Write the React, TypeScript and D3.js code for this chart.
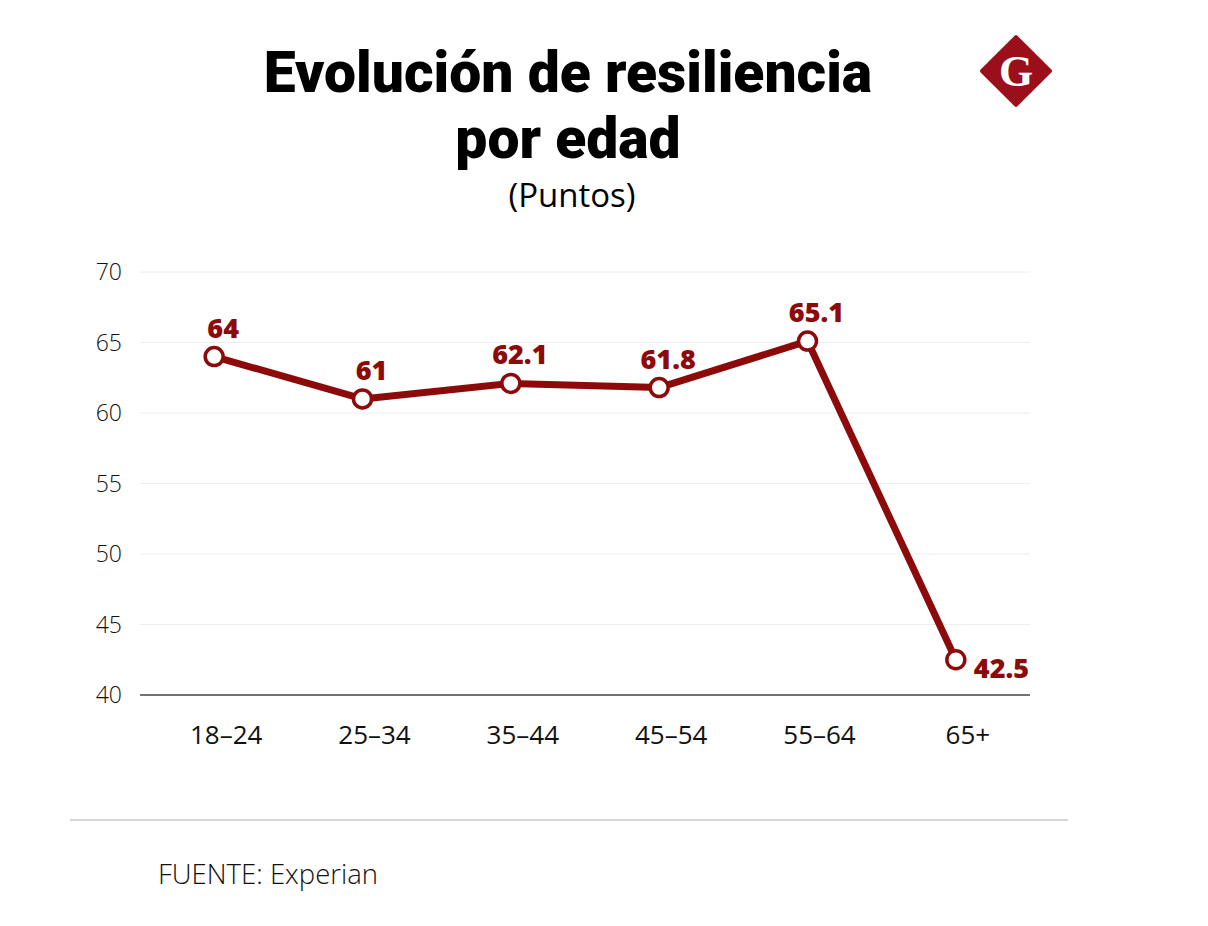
import * as d3 from "d3";

const categories = ["18-24", "25-34", "35-44", "45-54", "55-64", "65+"];
const values = [64, 61, 62.1, 61.8, 65.1, 42.5];
const yTicks = [40, 45, 50, 55, 60, 65, 70];

const RED = "#8c0a0a";

export default function App() {
  const width = 1208;
  const height = 926;
  const left = 140;
  const right = 1030;
  const top = 272;
  const bottom = 695;

  const x = d3.scalePoint<string>().domain(categories).range([left, right]).padding(0.5);
  const y = d3.scaleLinear().domain([40, 70]).range([bottom, top]);

  const line = d3
    .line<number>()
    .x((_, i) => x(categories[i]) as number)
    .y((d) => y(d));

  return (
    <svg width={width} height={height} style={{ position: "absolute", left: 0, top: 0, background: "#fff" }}>
      {/* title */}
      <g fontFamily="Roboto, sans-serif" fontWeight={900} fill="#000" textAnchor="middle">
        <text x={568} y={92} fontSize={57}>Evolución de resiliencia</text>
        <text x={568} y={158} fontSize={57}>por edad</text>
      </g>
      <text x={572} y={207} fontSize={33} fontFamily="'Open Sans', sans-serif" textAnchor="middle" fill="#000">
        (Puntos)
      </text>

      {/* logo */}
      <g transform="translate(1016,71)">
        <rect x={-26} y={-26} width={52} height={52} fill="#9a0f1a" transform="rotate(45)" rx={2} />
        <text x={0} y={15} fontSize={44} fontFamily="'Liberation Serif', serif" fontWeight={700} fill="#fff" textAnchor="middle">
          G
        </text>
      </g>

      {/* grid */}
      {yTicks.map((t) => (
        <g key={t}>
          {t !== 40 && (
            <line x1={left} x2={right} y1={y(t)} y2={y(t)} stroke="#eeeeee" strokeWidth={1} />
          )}
          <text
            x={122}
            y={y(t)}
            dy="0.35em"
            textAnchor="end"
            fontSize={23}
            fontWeight={300}
            fontFamily="'Open Sans', sans-serif"
            fill="#111"
          >
            {t}
          </text>
        </g>
      ))}
      <line x1={left} x2={right} y1={bottom} y2={bottom} stroke="#444" strokeWidth={1.5} />

      {categories.map((c) => (
        <text
          key={c}
          x={(x(c) as number) + 12}
          y={744}
          textAnchor="middle"
          fontSize={26}
          fontWeight={500}
          fontFamily="'Open Sans', sans-serif"
          fill="#111"
        >
          {c.replace("-", "\u2013")}
        </text>
      ))}

      {/* line */}
      <path d={line(values) || ""} fill="none" stroke={RED} strokeWidth={7} strokeLinejoin="round" />
      {values.map((v, i) => (
        <circle key={i} cx={x(categories[i])} cy={y(v)} r={9} fill="#fff" stroke={RED} strokeWidth={3.5} />
      ))}
      {values.map((v, i) => {
        const last = i === values.length - 1;
        return (
          <text
            key={"l" + i}
            x={(x(categories[i]) as number) + (last ? 18 : 9)}
            y={y(v) + (last ? 18 : -19)}
            textAnchor={last ? "start" : "middle"}
            fontSize={27}
            fontWeight={800}
            fontFamily="'Open Sans', sans-serif"
            fill={RED}
          >
            {String(v)}
          </text>
        );
      })}

      {/* footer */}
      <line x1={70} x2={1068} y1={820} y2={820} stroke="#c8c8c8" strokeWidth={1.5} />
      <text x={158} y={884} fontSize={27.5} fontWeight={300} fontFamily="'Open Sans', sans-serif" fill="#111">
        FUENTE: Experian
      </text>
    </svg>
  );
}
